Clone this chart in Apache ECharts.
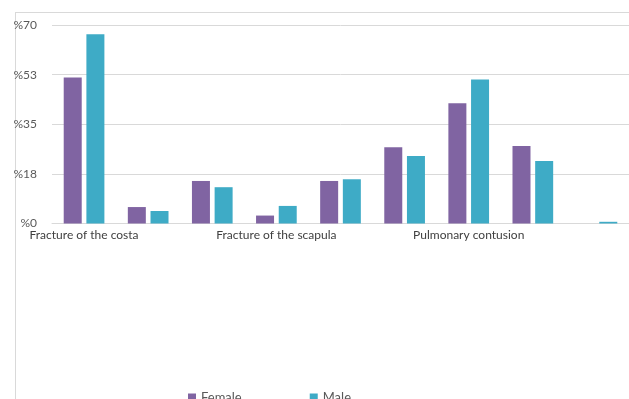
<!DOCTYPE html>
<html>
<head>
<meta charset="utf-8">
<script src="https://cdn.jsdelivr.net/npm/echarts@6/dist/echarts.min.js"></script>
<style>
  html, body { margin: 0; padding: 0; background: #fff; }
  #main { width: 629px; height: 399px; }
</style>
</head>
<body>
<div id="main"></div>
<script>
// categories (only every third name is shown, like the original)
var categories = [
    'Fracture of the costa', 'Fracture of the sternum', 'Fracture of the clavicle',
    'Fracture of the scapula', 'Hemothorax', 'Pneumothorax',
    'Pulmonary contusion', 'Hemopneumothorax', 'Diaphragm injury'
];
var female = [51.5, 5.8, 15.0, 2.8, 15.0, 26.9, 42.4, 27.3, 0];
var male = [66.7, 4.4, 12.8, 6.2, 15.6, 23.8, 50.8, 22.0, 0.6];
var yMax = 70;
var yStep = 17.5;

var chart = echarts.init(document.getElementById('main'));
var font = 'Lato, "Open Sans", sans-serif';

chart.setOption({
    animation: false,
    textStyle: { fontFamily: font },
    grid: { left: 52, right: -2, top: 25, bottom: 175.5, containLabel: false },
    graphic: [
        // chart frame (top and left edges visible)
        { type: 'line', shape: { x1: 15, y1: 12.5, x2: 629, y2: 12.5 }, style: { stroke: '#d9d9d9', lineWidth: 1 } },
        { type: 'line', shape: { x1: 15.5, y1: 12, x2: 15.5, y2: 399 }, style: { stroke: '#d9d9d9', lineWidth: 1 } }
    ],
    legend: {
        data: ['Female', 'Male'],
        left: 183,
        top: 386,
        itemWidth: 8,
        itemHeight: 8,
        itemGap: 68,
        icon: 'rect',
        textStyle: { color: '#595959', fontSize: 13, fontFamily: font }
    },
    xAxis: {
        type: 'category',
        data: categories,
        axisLine: { lineStyle: { color: '#d9d9d9' } },
        axisTick: { show: false },
        axisLabel: { interval: 2, color: '#404040', fontSize: 12, margin: 6, fontFamily: font }
    },
    yAxis: {
        type: 'value',
        min: 0,
        max: yMax,
        interval: yStep,
        axisLine: { show: false },
        axisTick: { show: false },
        splitLine: { lineStyle: { color: '#d9d9d9' } },
        axisLabel: {
            color: '#595959', fontSize: 12, margin: 15, fontFamily: font,
            formatter: function(v) { return '%' + Math.round(v); }
        }
    },
    series: [
        {
            name: 'Female', type: 'bar', data: female, barWidth: 18, barGap: '26%',
            itemStyle: { color: '#8064a2' }
        },
        {
            name: 'Male', type: 'bar', data: male, barWidth: 18,
            itemStyle: { color: '#3eabc6' }
        }
    ]
});
</script>
</body>
</html>
